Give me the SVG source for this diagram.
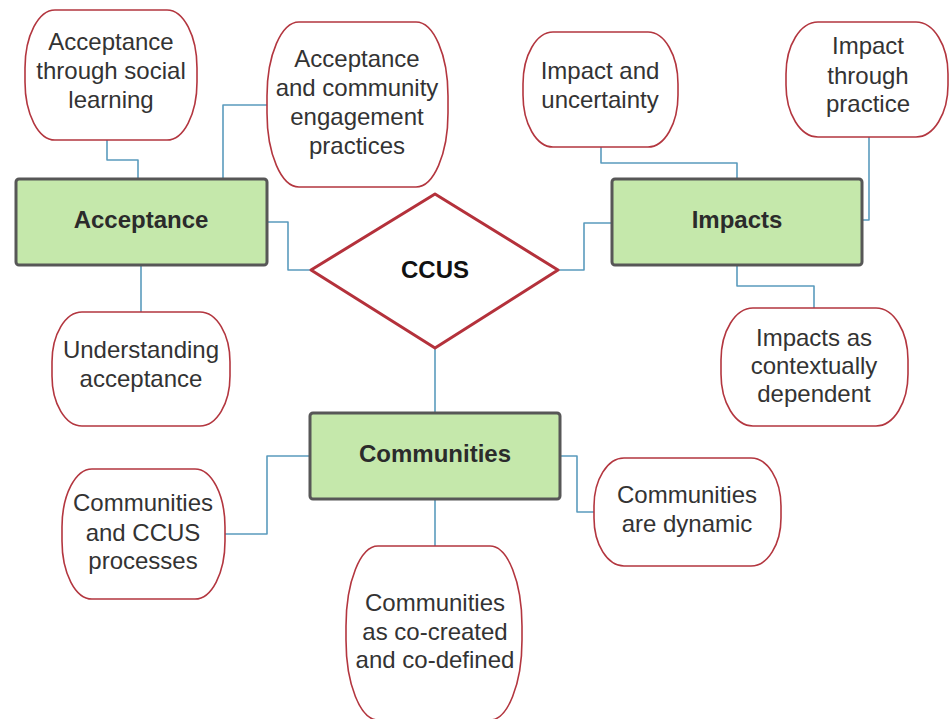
<svg xmlns="http://www.w3.org/2000/svg" width="950" height="719" viewBox="0 0 950 719">
<style>
.leaf{fill:#fff;stroke:#b3363f;stroke-width:1.6}
.main{fill:#c5e8ab;stroke:#575757;stroke-width:3}
.conn{fill:none;stroke:#5a9bbd;stroke-width:1.6;stroke-linejoin:round}
.t{font-family:"Liberation Sans",Arial,sans-serif;font-size:24px;fill:#333;text-anchor:middle}
.b{font-family:"Liberation Sans",Arial,sans-serif;font-size:24px;font-weight:bold;fill:#2b2b2b;text-anchor:middle}
</style>
<rect width="950" height="719" fill="#fff"/>
<g id="connectors">
<path class="conn" d="M107,140 V160 H138 V179"/>
<path class="conn" d="M267,105 H223 V179"/>
<path class="conn" d="M267,222 H288 V270 H312"/>
<path class="conn" d="M141,265 V312"/>
<path class="conn" d="M558,270 H584 V223 H612"/>
<path class="conn" d="M601,147 V163 H737 V179"/>
<path class="conn" d="M869,137 V220 H862"/>
<path class="conn" d="M737,265 V286 H814 V308"/>
<path class="conn" d="M435,348 V413"/>
<path class="conn" d="M310,456 H267 V534 H225"/>
<path class="conn" d="M560,456 H577 V512 H594"/>
<path class="conn" d="M435,499 V546"/>
</g>
<g id="ccus">
<polygon points="435,194 558,270 435,348 311,270" fill="#fff" stroke="#b4313b" stroke-width="3" stroke-linejoin="round"/>
<text class="b" x="435" y="278" style="fill:#111">CCUS</text>
</g>
<g id="acceptance">
<rect class="main" x="16" y="179" width="251" height="86" rx="3"/>
<text class="b" x="141" y="228">Acceptance</text>
</g>
<g id="impacts">
<rect class="main" x="612" y="179" width="250" height="86" rx="3"/>
<text class="b" x="737" y="228">Impacts</text>
</g>
<g id="communities">
<rect class="main" x="310" y="413" width="250" height="86" rx="3"/>
<text class="b" x="435" y="462">Communities</text>
</g>
<g id="acc-social">
<rect class="leaf" x="25" y="10" width="172" height="130" rx="30" ry="58"/>
<text class="t" x="111" y="50">Acceptance</text>
<text class="t" x="111" y="79">through social</text>
<text class="t" x="111" y="108">learning</text>
</g>
<g id="acc-engagement">
<rect class="leaf" x="267" y="22" width="181" height="165" rx="32" ry="74"/>
<text class="t" x="357" y="67">Acceptance</text>
<text class="t" x="357" y="96">and community</text>
<text class="t" x="357" y="125">engagement</text>
<text class="t" x="357" y="154">practices</text>
</g>
<g id="acc-understanding">
<rect class="leaf" x="52" y="312" width="178" height="114" rx="30" ry="50"/>
<text class="t" x="141" y="358">Understanding</text>
<text class="t" x="141" y="387">acceptance</text>
</g>
<g id="imp-uncertainty">
<rect class="leaf" x="523" y="32" width="155" height="115" rx="30" ry="52"/>
<text class="t" x="600" y="79">Impact and</text>
<text class="t" x="600" y="108">uncertainty</text>
</g>
<g id="imp-practice">
<rect class="leaf" x="786" y="22" width="162" height="115" rx="32" ry="52"/>
<text class="t" x="868" y="54">Impact</text>
<text class="t" x="868" y="84">through</text>
<text class="t" x="868" y="112">practice</text>
</g>
<g id="imp-contextual">
<rect class="leaf" x="721" y="308" width="187" height="118" rx="32" ry="52"/>
<text class="t" x="814" y="346">Impacts as</text>
<text class="t" x="814" y="374">contextually</text>
<text class="t" x="814" y="402">dependent</text>
</g>
<g id="com-processes">
<rect class="leaf" x="62" y="469" width="163" height="130" rx="30" ry="58"/>
<text class="t" x="143" y="511">Communities</text>
<text class="t" x="143" y="541">and CCUS</text>
<text class="t" x="143" y="569">processes</text>
</g>
<g id="com-dynamic">
<rect class="leaf" x="594" y="458" width="187" height="108" rx="30" ry="48"/>
<text class="t" x="687" y="503">Communities</text>
<text class="t" x="687" y="532">are dynamic</text>
</g>
<g id="com-cocreated">
<rect class="leaf" x="346" y="546" width="176" height="174" rx="32" ry="80"/>
<text class="t" x="435" y="611">Communities</text>
<text class="t" x="435" y="640">as co-created</text>
<text class="t" x="435" y="668">and co-defined</text>
</g>
</svg>
